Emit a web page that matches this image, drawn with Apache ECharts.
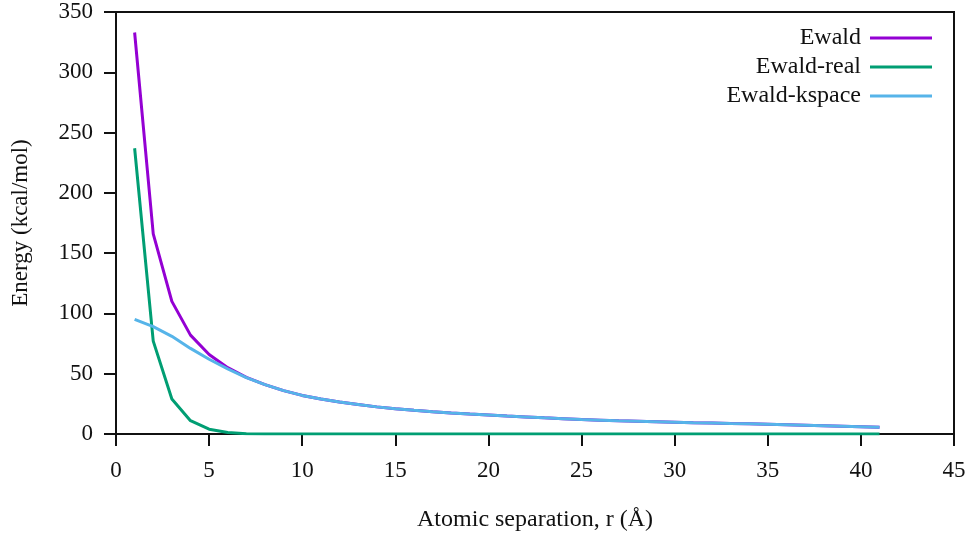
<!DOCTYPE html>
<html>
<head>
<meta charset="utf-8">
<script src="https://cdn.jsdelivr.net/npm/echarts@6/dist/echarts.min.js"></script>
<style>
  html, body { margin: 0; padding: 0; background: #fff; }
  #chart { width: 970px; height: 538px; }
</style>
</head>
<body>
<div id="chart"></div>
<script>
// r values (Å)
const separation = [1, 2, 3, 4, 5, 6, 7, 8, 9, 10, 11, 12, 13, 14, 15, 16, 17, 18, 19, 20,
  21, 22, 23, 24, 25, 26, 27, 28, 29, 30, 31, 32, 33, 34, 35, 36, 37, 38, 39, 40, 41]

// energies (kcal/mol)
const ewald = [333, 166, 110, 82, 66, 55, 47, 41, 36, 32, 29, 26.5, 24.5, 22.5, 21, 19.7, 18.5, 17.4, 16.5, 15.7,
  14.9, 14.2, 13.4, 12.7, 12.0, 11.5, 11.0, 10.6, 10.2, 9.8, 9.4, 9.1, 8.7, 8.4, 8.0, 7.6, 7.2, 6.8, 6.4, 6.0, 5.6]
const ewaldReal = [237, 77, 29, 11, 4, 1.2, 0.3, 0.1, 0, 0, 0, 0, 0, 0, 0, 0, 0, 0, 0, 0,
  0, 0, 0, 0, 0, 0, 0, 0, 0, 0, 0, 0, 0, 0, 0, 0, 0, 0, 0, 0, 0]
const ewaldKspace = [95, 89, 81, 71, 62, 54, 46.7, 40.9, 36, 32, 29, 26.5, 24.5, 22.5, 21, 19.7, 18.5, 17.4, 16.5, 15.7,
  14.9, 14.2, 13.4, 12.7, 12.0, 11.5, 11.0, 10.6, 10.2, 9.8, 9.4, 9.1, 8.7, 8.4, 8.0, 7.6, 7.2, 6.8, 6.4, 6.0, 5.6]

const seriesNames = ['Ewald', 'Ewald-real', 'Ewald-kspace']
const seriesColors = ['#9400D3', '#009E73', '#56B4E9']
const seriesData = [ewald, ewaldReal, ewaldKspace]

const font = '"Liberation Serif", "DejaVu Serif", serif'

let chart = echarts.init(document.getElementById('chart'))

// one legend per entry so the line samples line up on the right
const legendTops = [26, 55, 84]
const legends = seriesNames.map((name, i) => ({
  data: [name],
  right: 38,
  top: legendTops[i],
  padding: 0,
  align: 'right',
  itemWidth: 62,
  itemHeight: 16,
  icon: 'path://M0,6.5 L62,6.5 L62,9.5 L0,9.5 Z',
  textStyle: { fontFamily: font, fontSize: 24, color: '#111', padding: [0, 4, 0, 0] }
}))

const option = {
  animation: false,
  backgroundColor: '#fff',
  color: seriesColors,
  legend: legends,
  grid: {
    left: 116,
    right: 16,
    top: 12,
    bottom: 104,
    show: true,
    borderColor: '#111',
    borderWidth: 2,
    containLabel: false
  },
  xAxis: {
    type: 'value',
    min: 0,
    max: 45,
    interval: 5,
    name: 'Atomic separation, r (Å)',
    nameLocation: 'middle',
    nameGap: 74,
    nameTextStyle: { fontFamily: font, fontSize: 24, color: '#111' },
    axisLine: { show: true, onZero: false, lineStyle: { color: '#111', width: 2 } },
    axisTick: { show: true, inside: false, length: 12, lineStyle: { color: '#111', width: 2 } },
    axisLabel: { fontFamily: font, fontSize: 23, color: '#111', margin: 25 },
    splitLine: { show: false }
  },
  yAxis: {
    type: 'value',
    min: 0,
    max: 350,
    interval: 50,
    name: 'Energy (kcal/mol)',
    nameLocation: 'middle',
    nameGap: 84,
    nameTextStyle: { fontFamily: font, fontSize: 23, color: '#111' },
    axisLine: { show: true, lineStyle: { color: '#111', width: 2 } },
    axisTick: { show: true, inside: false, length: 12, lineStyle: { color: '#111', width: 2 } },
    axisLabel: { fontFamily: font, fontSize: 23, color: '#111', margin: 23 },
    splitLine: { show: false }
  },
  series: seriesNames.map((name, i) => ({
    name: name,
    type: 'line',
    data: separation.map((x, j) => [x, seriesData[i][j]]),
    showSymbol: false,
    symbol: 'none',
    lineStyle: { color: seriesColors[i], width: 3 },
    itemStyle: { color: seriesColors[i] },
    z: 2 + i
  }))
}

chart.setOption(option)
</script>
</body>
</html>
